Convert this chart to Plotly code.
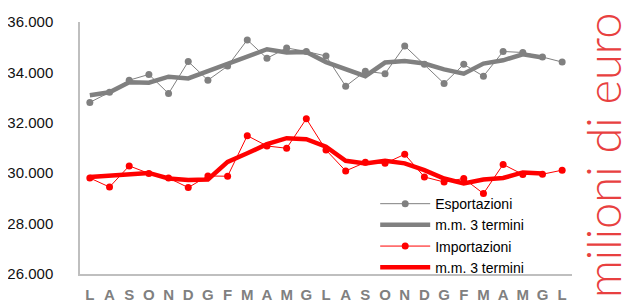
import plotly.graph_objects as go

months = ["L", "A", "S", "O", "N", "D", "G", "F", "M", "A", "M", "G", "L",
          "A", "S", "O", "N", "D", "G", "F", "M", "A", "M", "G", "L"]

esportazioni = [32810, 33210, 33690, 33920, 33160, 34430, 33690, 34250, 35290, 34560,
                34970, 34830, 34650, 33450, 34050, 33950, 35050, 34320, 33560, 34320,
                33850, 34830, 34790, 34610, 34410]
esp_mm3 = [33090, 33210, 33610, 33590, 33830, 33760, 34050, 34350, 34650, 34920,
           34790, 34810, 34410, 34120, 33850, 34390, 34450, 34350, 34120, 33950,
           34350, 34480, 34720, 34590, None]

importazioni = [29810, 29450, 30290, 29990, 29810, 29430, 29890, 29880, 31490, 31080,
                30990, 32160, 30920, 30090, 30430, 30390, 30750, 29850, 29650, 29790,
                29190, 30350, 29950, 29960, 30120]
imp_mm3 = [29850, 29890, 29950, 30010, 29790, 29730, 29750, 30450, 30790, 31150,
           31390, 31350, 31050, 30490, 30390, 30490, 30390, 30120, 29790, 29590,
           29750, 29810, 30030, 29990, None]

y_ticks = [26000, 28000, 30000, 32000, 34000, 36000]
y_tick_text = ["26.000", "28.000", "30.000", "32.000", "34.000", "36.000"]

x = list(range(len(months)))

GRAY = "#808080"
RED = "#ff0000"

fig = go.Figure()
fig.add_trace(go.Scatter(x=x, y=esportazioni, name="Esportazioni", mode="lines+markers",
                         line=dict(color=GRAY, width=1), marker=dict(color=GRAY, size=7)))
fig.add_trace(go.Scatter(x=x, y=esp_mm3, name="m.m. 3 termini", mode="lines",
                         line=dict(color=GRAY, width=4.5)))
fig.add_trace(go.Scatter(x=x, y=importazioni, name="Importazioni", mode="lines+markers",
                         line=dict(color=RED, width=1), marker=dict(color=RED, size=7)))
fig.add_trace(go.Scatter(x=x, y=imp_mm3, name="m.m. 3 termini", mode="lines",
                         line=dict(color=RED, width=4.5)))

fig.update_layout(
    width=632, height=304,
    margin=dict(l=72, r=68, t=14, b=38, autoexpand=False),
    paper_bgcolor="white", plot_bgcolor="white",
    font=dict(family="Liberation Sans, Arial, sans-serif", size=15, color="#000000"),
    showlegend=True,
    legend=dict(x=0.600, y=-0.036, xanchor="left", yanchor="bottom",
                bgcolor="rgba(0,0,0,0)", font=dict(size=14, color="#000000"),
                tracegroupgap=0, itemwidth=50),
    xaxis=dict(range=[-0.5, len(months) - 0.5], tickmode="array", tickvals=x,
               ticktext=months, showgrid=False, zeroline=False, automargin=False,
               showline=True, linecolor="#bfbfbf", linewidth=1.5, ticks="",
               tickfont=dict(family="Liberation Sans Narrow, Liberation Sans, sans-serif",
                             size=15, color=GRAY, weight="bold"),
               ticklabelstandoff=6),
    yaxis=dict(range=[26000, 36000], tickmode="array", tickvals=y_ticks,
               ticktext=y_tick_text, showgrid=False, zeroline=False, automargin=False,
               showline=True, linecolor="#bfbfbf", linewidth=1.5, ticks="",
               tickfont=dict(size=15, color="#111111"), ticklabelstandoff=22),
    annotations=[dict(text="milioni di euro", xref="paper", yref="paper",
                      x=1.063, y=0.472, xanchor="center", yanchor="middle",
                      textangle=-90, showarrow=False,
                      font=dict(family="Lato, sans-serif", size=47, weight=300,
                                color="rgb(232,64,64)"))],
)

fig.write_html("out.html")
